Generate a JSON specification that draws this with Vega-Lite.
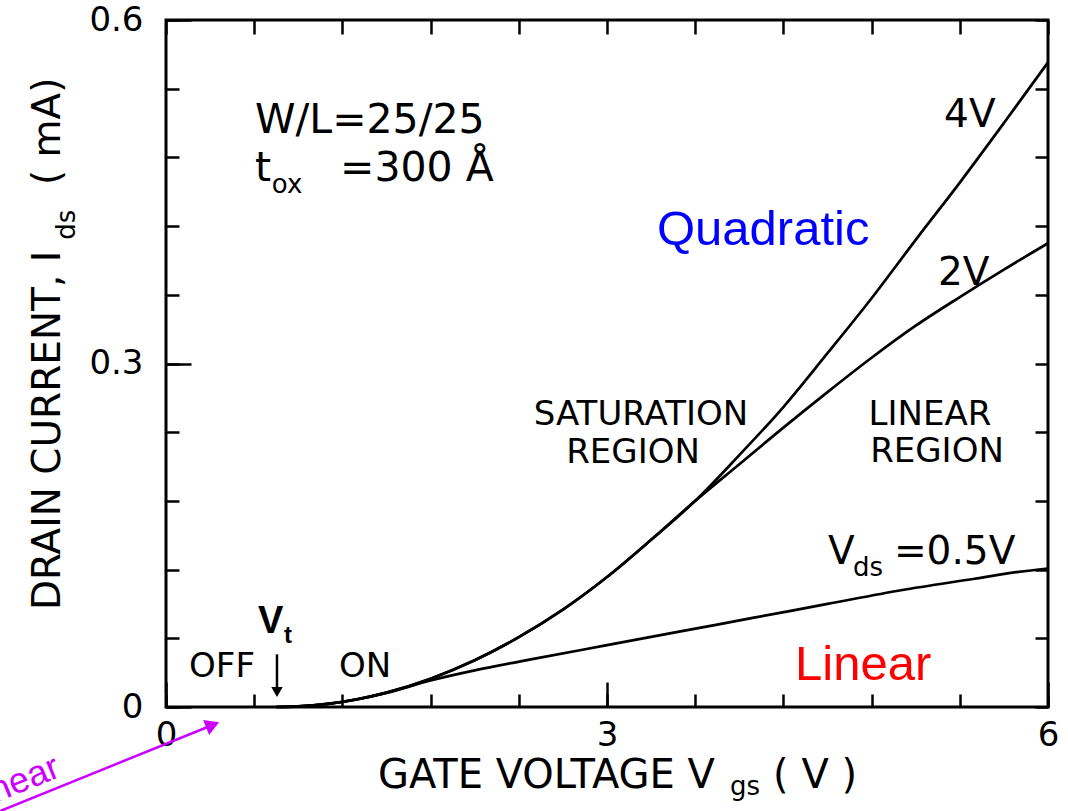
{
  "$schema": "https://vega.github.io/schema/vega-lite/v6.json",
  "width": 882,
  "height": 687,
  "autosize": {"type": "none"},
  "padding": {"left": 166, "top": 20, "right": 20, "bottom": 104},
  "background": "white",
  "config": {
    "view": {"stroke": "black", "strokeWidth": 3},
    "axis": {"tickColor": "black", "tickWidth": 2.5, "domain": false, "grid": false, "labelColor": "black", "labelFont": "DejaVu Sans", "labelFontSize": 34, "labelFlush": false}
  },
  "resolve": {"axis": {"x": "independent", "y": "independent"}},
  "datasets": {
    "curves": [
      {"series": "4V", "V": 0.75, "I": 0}, {"series": "4V", "V": 0.9, "I": 0.0005}, {"series": "4V", "V": 1.1, "I": 0.0027}, {"series": "4V", "V": 1.3, "I": 0.0068}, {"series": "4V", "V": 1.5, "I": 0.0126}, {"series": "4V", "V": 1.8, "I": 0.0247}, {"series": "4V", "V": 2.1, "I": 0.0408}, {"series": "4V", "V": 2.4, "I": 0.061}, {"series": "4V", "V": 2.7, "I": 0.085}, {"series": "4V", "V": 3.0, "I": 0.1135}, {"series": "4V", "V": 3.3, "I": 0.146}, {"series": "4V", "V": 3.6, "I": 0.18}, {"series": "4V", "V": 3.9, "I": 0.22}, {"series": "4V", "V": 4.2, "I": 0.262}, {"series": "4V", "V": 4.5, "I": 0.309}, {"series": "4V", "V": 4.8, "I": 0.357}, {"series": "4V", "V": 5.1, "I": 0.408}, {"series": "4V", "V": 5.4, "I": 0.458}, {"series": "4V", "V": 5.7, "I": 0.51}, {"series": "4V", "V": 6.0, "I": 0.563},
      {"series": "2V", "V": 0.75, "I": 0}, {"series": "2V", "V": 0.9, "I": 0.0005}, {"series": "2V", "V": 1.1, "I": 0.0027}, {"series": "2V", "V": 1.3, "I": 0.0068}, {"series": "2V", "V": 1.5, "I": 0.0126}, {"series": "2V", "V": 1.8, "I": 0.0247}, {"series": "2V", "V": 2.1, "I": 0.0408}, {"series": "2V", "V": 2.4, "I": 0.061}, {"series": "2V", "V": 2.7, "I": 0.085}, {"series": "2V", "V": 3.0, "I": 0.1135}, {"series": "2V", "V": 3.3, "I": 0.146}, {"series": "2V", "V": 3.6, "I": 0.18}, {"series": "2V", "V": 3.9, "I": 0.212}, {"series": "2V", "V": 4.2, "I": 0.244}, {"series": "2V", "V": 4.5, "I": 0.275}, {"series": "2V", "V": 4.8, "I": 0.305}, {"series": "2V", "V": 5.1, "I": 0.333}, {"series": "2V", "V": 5.4, "I": 0.358}, {"series": "2V", "V": 5.7, "I": 0.382}, {"series": "2V", "V": 6.0, "I": 0.405},
      {"series": "0.5V", "V": 0.75, "I": 0}, {"series": "0.5V", "V": 0.9, "I": 0.0005}, {"series": "0.5V", "V": 1.1, "I": 0.0027}, {"series": "0.5V", "V": 1.3, "I": 0.0067}, {"series": "0.5V", "V": 1.5, "I": 0.0123}, {"series": "0.5V", "V": 1.8, "I": 0.0232}, {"series": "0.5V", "V": 2.1, "I": 0.032}, {"series": "0.5V", "V": 2.5, "I": 0.042}, {"series": "0.5V", "V": 3.0, "I": 0.054}, {"series": "0.5V", "V": 3.5, "I": 0.066}, {"series": "0.5V", "V": 4.0, "I": 0.078}, {"series": "0.5V", "V": 4.5, "I": 0.09}, {"series": "0.5V", "V": 5.0, "I": 0.102}, {"series": "0.5V", "V": 5.5, "I": 0.112}, {"series": "0.5V", "V": 5.8, "I": 0.118}, {"series": "0.5V", "V": 6.0, "I": 0.121}
    ],
    "g1": [
      {"label": "4V", "V": 5.293, "I": 0.5066},
      {"label": "2V", "V": 5.252, "I": 0.3686},
      {"label": "V", "V": 4.503, "I": 0.1249},
      {"label": "=0.5V", "V": 4.952, "I": 0.1249}
    ],
    "wl": [
      {"label": "W/L=25/25", "V": 0.605, "I": 0.5013},
      {"label": "t", "V": 0.605, "I": 0.4594},
      {"label": "=300 Å", "V": 1.184, "I": 0.4594}
    ],
    "g2": [
      {"label": "SATURATION", "V": 3.231, "I": 0.2463},
      {"label": "REGION", "V": 3.177, "I": 0.2131},
      {"label": "LINEAR", "V": 5.197, "I": 0.2463},
      {"label": "REGION", "V": 5.245, "I": 0.214},
      {"label": "OFF", "V": 0.381, "I": 0.0262},
      {"label": "ON", "V": 1.354, "I": 0.0262}
    ],
    "subs": [
      {"label": "ox", "V": 0.72, "I": 0.449},
      {"label": "ds", "V": 4.673, "I": 0.1144},
      {"label": "gs", "V": 3.837, "I": -0.0769}
    ],
    "xtitle": [
      {"label": "GATE VOLTAGE V", "V": 1.442, "I": -0.0707},
      {"label": "( V )", "V": 4.13, "I": -0.0707}
    ],
    "ytitle": [
      {"label": "DRAIN CURRENT, I", "V": -0.721, "I": 0.0847},
      {"label": "( mA)", "V": -0.721, "I": 0.4559}
    ],
    "ysub": [{"label": "ds", "V": -0.619, "I": 0.408}],
    "vt": [{"label": "V", "V": 0.626, "I": 0.0646}],
    "vtsub": [{"label": "t", "V": 0.803, "I": 0.0559}],
    "colored": [
      {"label": "Quadratic", "V": 3.34, "I": 0.4035},
      {"label": "Linear", "V": 4.279, "I": 0.0236}
    ],
    "mtext": [{"label": "Nonlinear", "V": -0.707, "I": -0.0603}],
    "marrow": [{"V": -1.15, "I": -0.092, "V2": 0.317, "I2": -0.0157}],
    "mhead": [{"V": 0.317, "I": -0.0157}],
    "vtarrow": [{"V": 0.755, "I": 0.046, "I2": 0.016}],
    "vthead": [{"V": 0.755, "I": 0.0131}]
  },
  "encoding": {
    "x": {"field": "V", "type": "quantitative", "scale": {"domain": [0, 6], "nice": false, "zero": false}, "axis": null},
    "y": {"field": "I", "type": "quantitative", "scale": {"domain": [0, 0.6], "nice": false, "zero": false}, "axis": null}
  },
  "layer": [
    {
      "data": {"name": "curves"},
      "mark": {"type": "line", "color": "black", "strokeWidth": 2.7, "interpolate": "monotone"},
      "encoding": {
        "x": {"field": "V", "type": "quantitative", "scale": {"domain": [0, 6], "nice": false, "zero": false}, "axis": {"orient": "bottom", "values": [0, 0.6, 1.2, 1.8, 2.4, 3, 3.6, 4.2, 4.8, 5.4, 6], "tickSize": -13, "labels": false, "title": null}},
        "y": {"field": "I", "type": "quantitative", "scale": {"domain": [0, 0.6], "nice": false, "zero": false}, "axis": {"orient": "left", "values": [0, 0.06, 0.12, 0.18, 0.24, 0.3, 0.36, 0.42, 0.48, 0.54, 0.6], "tickSize": -13, "labels": false, "title": null}},
        "detail": {"field": "series", "type": "nominal"}
      }
    },
    {
      "data": {"name": "g1"},
      "mark": {"type": "text", "font": "DejaVu Sans", "fontSize": 39, "align": "left", "baseline": "alphabetic", "color": "black"},
      "encoding": {
        "x": {"field": "V", "type": "quantitative", "scale": {"domain": [0, 6], "nice": false, "zero": false}, "axis": {"orient": "bottom", "values": [0, 3, 6], "tickSize": -25, "labels": true, "labelPadding": 36, "format": "~g", "title": null}},
        "y": {"field": "I", "type": "quantitative", "scale": {"domain": [0, 0.6], "nice": false, "zero": false}, "axis": {"orient": "left", "values": [0, 0.3, 0.6], "tickSize": -25, "labels": true, "labelPadding": 48, "format": "~g", "title": null}},
        "text": {"field": "label"}
      }
    },
    {
      "data": {"name": "g2"},
      "mark": {"type": "text", "font": "DejaVu Sans", "fontSize": 34, "align": "center", "baseline": "alphabetic", "color": "black"},
      "encoding": {
        "x": {"field": "V", "type": "quantitative", "scale": {"domain": [0, 6], "nice": false, "zero": false}, "axis": {"orient": "top", "values": [0, 0.6, 1.2, 1.8, 2.4, 3, 3.6, 4.2, 4.8, 5.4, 6], "tickSize": -14, "labels": false, "title": null}},
        "y": {"field": "I", "type": "quantitative", "scale": {"domain": [0, 0.6], "nice": false, "zero": false}, "axis": {"orient": "right", "values": [0, 0.06, 0.12, 0.18, 0.24, 0.3, 0.36, 0.42, 0.48, 0.54, 0.6], "tickSize": -13, "labels": false, "title": null}},
        "text": {"field": "label"}
      }
    },
    {
      "data": {"name": "wl"},
      "mark": {"type": "text", "font": "DejaVu Sans", "fontSize": 41, "align": "left", "baseline": "alphabetic", "color": "black"},
      "encoding": {"text": {"field": "label"}}
    },
    {
      "data": {"name": "subs"},
      "mark": {"type": "text", "font": "DejaVu Sans", "fontSize": 26, "align": "left", "baseline": "alphabetic", "color": "black"},
      "encoding": {"text": {"field": "label"}}
    },
    {
      "data": {"name": "xtitle"},
      "mark": {"type": "text", "font": "DejaVu Sans", "fontSize": 40, "align": "left", "baseline": "alphabetic", "color": "black"},
      "encoding": {"text": {"field": "label"}}
    },
    {
      "data": {"name": "ytitle"},
      "mark": {"type": "text", "font": "DejaVu Sans", "fontSize": 39, "align": "left", "baseline": "alphabetic", "angle": 270, "color": "black"},
      "encoding": {"text": {"field": "label"}}
    },
    {
      "data": {"name": "ysub"},
      "mark": {"type": "text", "font": "DejaVu Sans", "fontSize": 26, "align": "left", "baseline": "alphabetic", "angle": 270, "color": "black"},
      "encoding": {"text": {"field": "label"}}
    },
    {
      "data": {"name": "vt"},
      "mark": {"type": "text", "font": "Liberation Sans", "fontWeight": "bold", "fontSize": 38, "align": "left", "baseline": "alphabetic", "color": "black"},
      "encoding": {"text": {"field": "label"}}
    },
    {
      "data": {"name": "vtsub"},
      "mark": {"type": "text", "font": "Liberation Sans", "fontWeight": "bold", "fontSize": 24, "align": "left", "baseline": "alphabetic", "color": "black"},
      "encoding": {"text": {"field": "label"}}
    },
    {
      "data": {"name": "vtarrow"},
      "mark": {"type": "rule", "color": "black", "strokeWidth": 2.5},
      "encoding": {"y2": {"field": "I2"}}
    },
    {
      "data": {"name": "vthead"},
      "mark": {"type": "point", "shape": "triangle-down", "filled": true, "size": 130, "color": "black", "opacity": 1},
      "encoding": {}
    },
    {
      "data": {"name": "colored"},
      "mark": {"type": "text", "font": "Liberation Sans", "fontSize": 49, "align": "left", "baseline": "alphabetic"},
      "encoding": {
        "text": {"field": "label"},
        "color": {"field": "label", "type": "nominal", "scale": {"domain": ["Quadratic", "Linear"], "range": ["#0000FF", "#FF0000"]}, "legend": null}
      }
    },
    {
      "data": {"name": "mtext"},
      "mark": {"type": "text", "font": "Liberation Sans", "fontSize": 36, "align": "right", "baseline": "alphabetic", "angle": -22, "color": "#CC00FF"},
      "encoding": {"text": {"field": "label"}}
    },
    {
      "data": {"name": "marrow"},
      "mark": {"type": "rule", "color": "#CC00FF", "strokeWidth": 2.5},
      "encoding": {"x2": {"field": "V2"}, "y2": {"field": "I2"}}
    },
    {
      "data": {"name": "mhead"},
      "mark": {"type": "point", "shape": "triangle-right", "filled": true, "size": 260, "angle": -22, "color": "#CC00FF", "opacity": 1},
      "encoding": {}
    }
  ]
}
